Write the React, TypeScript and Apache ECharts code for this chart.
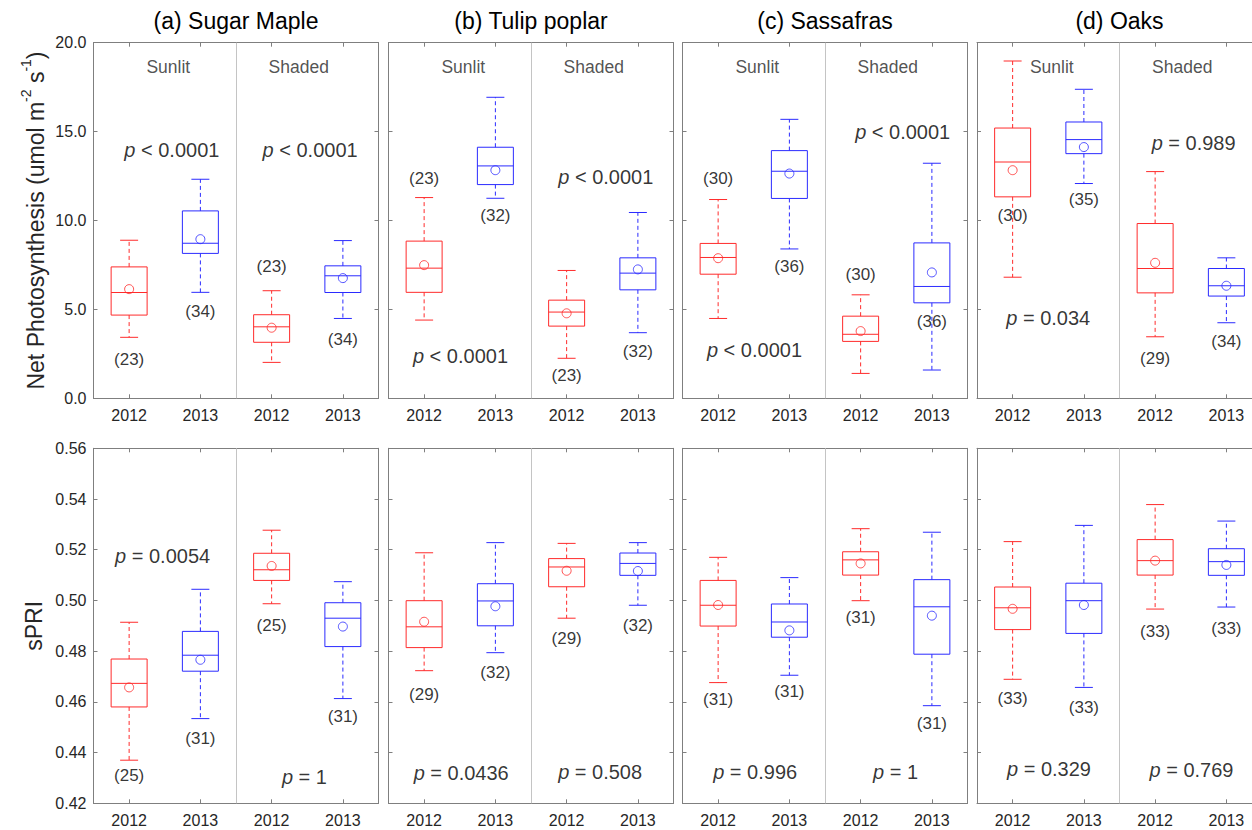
import React, { useEffect, useRef } from "react";
import * as echarts from "echarts";

const FONT = '"Liberation Sans", Arial, Helvetica, sans-serif';
const RED = "#ff2b2b";
const BLUE = "#2b2bff";
const AXIS_C = "#7f7f7f";
const TICK_TEXT = "#262626";
const DIVIDER_C = "#c4c4c4";

const panelTitles = ["(a) Sugar Maple", "(b) Tulip poplar", "(c) Sassafras", "(d) Oaks"];
const yearLabels = ["2012", "2013", "2012", "2013"];
const groupLabels = ["Sunlit", "Shaded"];
const groupLabelPos = [
  [1.55, 18.63],
  [3.38, 18.63],
];

// Net photosynthesis: [lower whisker, Q1, median, Q3, upper whisker] for Sunlit 2012, Sunlit 2013, Shaded 2012, Shaded 2013
const photoBoxes = [
  [
    [3.43, 4.68, 5.95, 7.39, 8.89],
    [5.96, 8.15, 8.72, 10.54, 12.32],
    [2.02, 3.15, 4.02, 4.7, 6.05],
    [4.49, 5.95, 6.89, 7.45, 8.87],
  ],
  [
    [4.4, 5.96, 7.32, 8.84, 11.29],
    [11.25, 12.02, 13.07, 14.12, 16.93],
    [2.25, 4.06, 4.85, 5.52, 7.19],
    [3.69, 6.1, 7.04, 7.9, 10.45],
  ],
  [
    [4.49, 6.98, 7.92, 8.71, 11.18],
    [8.4, 11.24, 12.77, 13.93, 15.69],
    [1.4, 3.2, 3.6, 4.62, 5.82],
    [1.59, 5.37, 6.29, 8.74, 13.22],
  ],
  [
    [6.81, 11.33, 13.29, 15.2, 18.97],
    [12.08, 13.76, 14.55, 15.54, 17.38],
    [3.46, 5.93, 7.3, 9.83, 12.75],
    [4.25, 5.75, 6.33, 7.3, 7.9],
  ],
];
const photoMeans = [
  [6.14, 8.95, 3.97, 6.76],
  [7.49, 12.83, 4.78, 7.25],
  [7.88, 12.64, 3.78, 7.08],
  [12.83, 14.13, 7.62, 6.33],
];
const photoCounts = [
  [23, 34, 23, 34],
  [23, 32, 23, 32],
  [30, 36, 30, 36],
  [30, 35, 29, 34],
];
const photoCountY = [
  [2.19, 4.87, 7.39, 3.28],
  [12.39, 10.3, 1.27, 2.66],
  [12.39, 7.39, 6.98, 4.3],
  [10.3, 11.2, 2.25, 3.18],
];
const photoPText = [
  ["p < 0.0001", "p < 0.0001"],
  ["p < 0.0001", "p < 0.0001"],
  ["p < 0.0001", "p < 0.0001"],
  ["p = 0.034", "p = 0.989"],
];
const photoPPos = [
  [[1.6, 13.95], [3.54, 13.95]],
  [[1.51, 2.38], [3.55, 12.45]],
  [[1.51, 2.71], [3.59, 14.98]],
  [[1.5, 4.49], [3.54, 14.36]],
];

// sPRI: [lower whisker, Q1, median, Q3, upper whisker]
const spriBoxes = [
  [
    [0.437, 0.458, 0.4673, 0.4769, 0.4914],
    [0.4534, 0.4721, 0.4784, 0.4878, 0.5044],
    [0.4987, 0.5079, 0.5121, 0.5186, 0.5277],
    [0.4613, 0.4818, 0.493, 0.4991, 0.5074],
  ],
  [
    [0.4723, 0.4814, 0.4896, 0.4999, 0.5188],
    [0.4794, 0.49, 0.4998, 0.5066, 0.5228],
    [0.493, 0.5054, 0.5132, 0.5165, 0.5225],
    [0.4981, 0.5099, 0.5146, 0.5187, 0.5228],
  ],
  [
    [0.4676, 0.4899, 0.4981, 0.5079, 0.517],
    [0.4705, 0.4855, 0.4915, 0.4986, 0.509],
    [0.4999, 0.51, 0.516, 0.5192, 0.5283],
    [0.4585, 0.4788, 0.4975, 0.5082, 0.5269],
  ],
  [
    [0.4689, 0.4885, 0.4971, 0.5053, 0.5232],
    [0.4657, 0.487, 0.4999, 0.5068, 0.5296],
    [0.4966, 0.51, 0.5157, 0.524, 0.5378],
    [0.4974, 0.5099, 0.5153, 0.5204, 0.5313],
  ],
];
const spriMeans = [
  [0.4657, 0.4766, 0.5136, 0.4897],
  [0.4916, 0.4977, 0.5117, 0.5116],
  [0.4982, 0.4882, 0.5146, 0.494],
  [0.4967, 0.4982, 0.5157, 0.514],
];
const spriCounts = [
  [25, 31, 25, 31],
  [29, 32, 29, 32],
  [31, 31, 31, 31],
  [33, 33, 33, 33],
];
const spriCountY = [
  [0.4309, 0.4454, 0.4903, 0.4542],
  [0.4631, 0.4715, 0.4848, 0.4903],
  [0.461, 0.464, 0.4934, 0.4513],
  [0.4614, 0.4577, 0.4879, 0.489],
];
const spriPText = [
  ["p = 0.0054", "p = 1"],
  ["p = 0.0436", "p = 0.508"],
  ["p = 0.996", "p = 1"],
  ["p = 0.329", "p = 0.769"],
];
const spriPPos = [
  [[1.47, 0.5177], [3.46, 0.4305]],
  [[1.52, 0.4318], [3.47, 0.4325]],
  [[1.52, 0.4325], [3.49, 0.4325]],
  [[1.51, 0.4334], [3.51, 0.433]],
];

const PANEL_LEFT = [93.5, 388.5, 682.5, 977];
const PANEL_W = 285;
const ROW_TOP = [42.7, 448.3];
const ROW_H = [355.6, 355];

const rows = [
  {
    boxes: photoBoxes, means: photoMeans, counts: photoCounts, countY: photoCountY,
    pText: photoPText, pPos: photoPPos, min: 0, max: 20, interval: 5, digits: 1,
  },
  {
    boxes: spriBoxes, means: spriMeans, counts: spriCounts, countY: spriCountY,
    pText: spriPText, pPos: spriPPos, min: 0.42, max: 0.56, interval: 0.02, digits: 2,
  },
];

const colorFor = (k: number) => (k % 2 === 0 ? RED : BLUE);

// Box with dashed whiskers, solid caps and a median bar
function renderBox(params: any, api: any) {
  const x = api.value(0);
  const low = api.value(1);
  const q1 = api.value(2);
  const med = api.value(3);
  const q3 = api.value(4);
  const high = api.value(5);
  const color = api.visual("color");
  const band = api.size([1, 0])[0];
  const boxW = band * 0.505;
  const capW = boxW * 0.5;
  const cx = api.coord([x, med])[0];
  const yLow = api.coord([x, low])[1];
  const yQ1 = api.coord([x, q1])[1];
  const yMed = api.coord([x, med])[1];
  const yQ3 = api.coord([x, q3])[1];
  const yHigh = api.coord([x, high])[1];
  const solid = () => ({ stroke: color, lineWidth: 1, fill: "none", lineDash: null });
  const dashed = () => ({ stroke: color, lineWidth: 1, fill: "none", lineDash: [4, 3] });
  const l = cx - boxW / 2;
  const r = cx + boxW / 2;
  return {
    type: "group",
    children: [
      { type: "polyline", shape: { points: [[cx, yQ3], [cx, yHigh]] }, style: dashed() },
      { type: "polyline", shape: { points: [[cx, yQ1], [cx, yLow]] }, style: dashed() },
      { type: "polyline", shape: { points: [[cx - capW / 2, yHigh], [cx + capW / 2, yHigh]] }, style: solid() },
      { type: "polyline", shape: { points: [[cx - capW / 2, yLow], [cx + capW / 2, yLow]] }, style: solid() },
      { type: "polyline", shape: { points: [[l, yQ3], [r, yQ3], [r, yQ1], [l, yQ1], [l, yQ3]] }, style: solid() },
      { type: "polyline", shape: { points: [[l, yMed], [r, yMed]] }, style: solid() },
    ],
  };
}

function buildOption() {
  const grid: any[] = [];
  const xAxis: any[] = [];
  const yAxis: any[] = [];
  const series: any[] = [];
  const graphic: any[] = [];

  rows.forEach((row, r) => {
    for (let c = 0; c < 4; c++) {
      const gi = r * 4 + c;
      grid.push({
        left: PANEL_LEFT[c], top: ROW_TOP[r], width: PANEL_W, height: ROW_H[r],
        outerBoundsMode: "none",
      });
      const axisLine = () => ({ show: true, onZero: false, lineStyle: { color: AXIS_C, width: 1 } });
      const xBase = () => ({
        type: "value", gridIndex: gi, min: 0.5, max: 4.5,
        axisLine: axisLine(), splitLine: { show: false },
        axisTick: { show: true, inside: true, length: 4, customValues: [1, 2, 3, 4], lineStyle: { color: AXIS_C } },
      });
      xAxis.push({
        ...xBase(), position: "bottom",
        axisLabel: {
          show: true, customValues: [1, 2, 3, 4], formatter: (v: number) => yearLabels[Math.round(v) - 1],
          color: TICK_TEXT, fontSize: 16, fontFamily: FONT, margin: 9,
        },
      });
      xAxis.push({ ...xBase(), position: "top", axisLabel: { show: false } });
      const yBase = () => ({
        type: "value", gridIndex: gi, min: row.min, max: row.max, interval: row.interval,
        axisLine: axisLine(), splitLine: { show: false },
        axisTick: { show: true, inside: true, length: 4, lineStyle: { color: AXIS_C } },
      });
      yAxis.push({
        ...yBase(), position: "left",
        axisLabel: {
          show: c === 0, formatter: (v: number) => v.toFixed(row.digits),
          color: TICK_TEXT, fontSize: 16, fontFamily: FONT, margin: 7,
        },
      });
      yAxis.push({ ...yBase(), position: "right", axisLabel: { show: false } });

      const xi = gi * 2;
      const yi = gi * 2;

      series.push({
        type: "custom",
        xAxisIndex: xi, yAxisIndex: yi,
        silent: true,
        dimensions: ["x", "low", "q1", "med", "q3", "high"],
        encode: { x: "x", y: ["low", "q1", "med", "q3", "high"] },
        data: row.boxes[c].map((b, k) => ({ value: [k + 1, ...b], itemStyle: { color: colorFor(k) } })),
        renderItem: renderBox,
        markLine: {
          silent: true, symbol: "none", animation: false,
          label: { show: false },
          lineStyle: { color: DIVIDER_C, type: "solid", width: 1 },
          data: [{ xAxis: 2.5 }],
        },
        z: 3,
      });

      series.push({
        type: "scatter",
        xAxisIndex: xi, yAxisIndex: yi,
        silent: true,
        symbol: "circle", symbolSize: 9,
        data: row.means[c].map((m, k) => ({
          value: [k + 1, m],
          itemStyle: { color: "rgba(0,0,0,0)", borderColor: colorFor(k), borderWidth: 1 },
        })),
        z: 4,
      });

      series.push({
        type: "scatter",
        xAxisIndex: xi, yAxisIndex: yi,
        silent: true,
        symbolSize: 1, itemStyle: { color: "rgba(0,0,0,0)" },
        data: row.countY[c].map((y, k) => [k + 1, y]),
        label: {
          show: true, position: "inside", align: "center", verticalAlign: "middle",
          formatter: (p: any) => `(${row.counts[c][p.dataIndex]})`,
          color: "#000", fontSize: 17, fontFamily: FONT,
        },
        z: 5,
      });

      series.push({
        type: "scatter",
        xAxisIndex: xi, yAxisIndex: yi,
        silent: true,
        symbolSize: 1, itemStyle: { color: "rgba(0,0,0,0)" },
        data: row.pPos[c].map((p) => [p[0], p[1]]),
        label: {
          show: true, position: "inside", align: "center", verticalAlign: "middle",
          formatter: (p: any) => {
            const t = row.pText[c][p.dataIndex];
            return "{i|p}" + t.slice(1);
          },
          color: "#000", fontSize: 20, fontFamily: FONT,
          rich: { i: { fontStyle: "italic", fontSize: 20, fontFamily: FONT, color: "#000" } },
        },
        z: 5,
      });

      if (r === 0) {
        series.push({
          type: "scatter",
          xAxisIndex: xi, yAxisIndex: yi,
          silent: true,
          symbolSize: 1, itemStyle: { color: "rgba(0,0,0,0)" },
          data: groupLabelPos.map((p) => [p[0], p[1]]),
          label: {
            show: true, position: "inside", align: "center", verticalAlign: "middle",
            formatter: (p: any) => groupLabels[p.dataIndex],
            color: TICK_TEXT, fontSize: 17.5, fontFamily: FONT,
          },
          z: 5,
        });
        graphic.push({
          type: "text",
          x: PANEL_LEFT[c] + PANEL_W / 2,
          y: 21,
          style: {
            text: panelTitles[c], fill: "#000", font: `23px ${FONT}`,
            align: "center", verticalAlign: "middle",
          },
        });
      }
    }
  });

  graphic.push({
    type: "text",
    x: 33,
    y: (ROW_TOP[0] + ROW_TOP[0] + ROW_H[0]) / 2,
    rotation: Math.PI / 2,
    style: {
      text: "{m|Net Photosynthesis (umol m}{s|-2}{m| s}{s|-1}{m|)}",
      align: "center", verticalAlign: "middle", fill: "#262626",
      rich: {
        m: { fontSize: 23, fontFamily: FONT, fill: "#262626", lineHeight: 28, verticalAlign: "bottom" },
        s: { fontSize: 14, fontFamily: FONT, fill: "#262626", lineHeight: 28, verticalAlign: "top" },
      },
    },
  });
  graphic.push({
    type: "text",
    x: 34,
    y: (ROW_TOP[1] + ROW_TOP[1] + ROW_H[1]) / 2,
    rotation: Math.PI / 2,
    style: {
      text: "sPRI", fill: "#262626", font: `23px ${FONT}`,
      align: "center", verticalAlign: "middle",
    },
  });

  return {
    animation: false,
    backgroundColor: "#ffffff",
    textStyle: { fontFamily: FONT },
    grid, xAxis, yAxis, series, graphic,
  };
}

export default function App() {
  const ref = useRef<HTMLDivElement>(null);
  useEffect(() => {
    document.body.style.margin = "0";
    document.body.style.overflow = "hidden";
    if (!ref.current) return;
    const chart = echarts.init(ref.current, undefined, { renderer: "svg" });
    chart.setOption(buildOption() as any);
    return () => chart.dispose();
  }, []);
  // The last panel runs past the right edge of the page, so the chart is wider than its clipping frame
  return (
    <div style={{ width: 1252, height: 830, position: "absolute", left: 0, top: 0, overflow: "hidden" }}>
      <div ref={ref} style={{ width: 1266, height: 830 }} />
    </div>
  );
}
